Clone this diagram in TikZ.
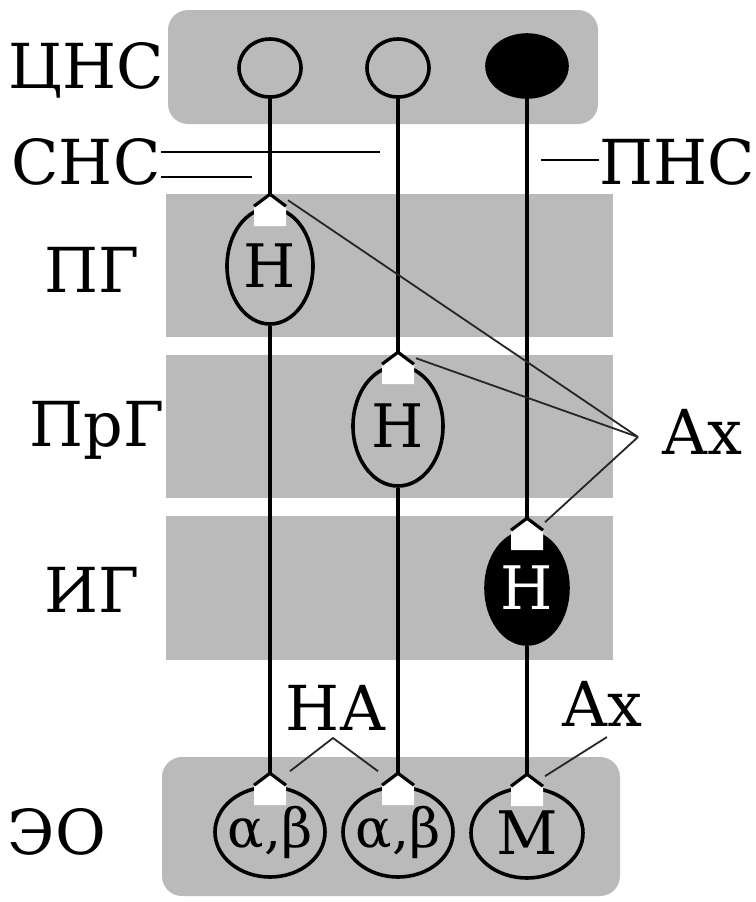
\documentclass[tikz,border=0pt]{standalone}
\usepackage{fontspec}
\setmainfont{DejaVu Serif}
\usetikzlibrary{shapes.geometric, positioning}

\tikzset{
  layer/.style={fill=black!27},
  cell/.style={ellipse, draw, line width=1.8pt, inner sep=0pt, font=\fontsize{30}{30}\selectfont},
  wire/.style={line width=1.6pt},
  pointer/.style={line width=0.9pt, draw=black!85},
  lbl/.style={inner sep=0pt, font=\fontsize{31}{31}\selectfont}
}
\newcommand{\synapse}[1]{%
  \fill[white] ([shift={(-8pt,0pt)}]#1.north) -- ([shift={(0pt,6pt)}]#1.north) -- ([shift={(8pt,0pt)}]#1.north)
    -- ([shift={(8pt,-10pt)}]#1.north) -- ([shift={(-8pt,-10pt)}]#1.north) -- cycle;
  \draw[wire] ([shift={(-8pt,0pt)}]#1.north) -- ([shift={(0pt,6pt)}]#1.north) -- ([shift={(8pt,0pt)}]#1.north);
}

\begin{document}
\begin{tikzpicture}[x=0.5pt,y=-0.5pt]
  \useasboundingbox (0,0) rectangle (756,902);

  \fill[layer, rounded corners=10pt] (168,10) rectangle (598,124);
  \fill[layer] (166,194) rectangle (613,337);
  \fill[layer] (166,355) rectangle (613,498);
  \fill[layer] (166,516) rectangle (613,660);
  \fill[layer, rounded corners=10pt] (162,757) rectangle (620,896);

  \node[lbl] (cns) at (86,70) {ЦНС};
  \node[lbl] (sns) at (86,162) {СНС};
  \node[lbl] (pns) at (677,162) {ПНС};
  \node[lbl] (pg) at (92,270) {ПГ};
  \node[lbl] (prg) at (97,430) {ПрГ};
  \node[lbl] (ig) at (92,590) {ИГ};
  \node[lbl] (eo) at (57,832) {ЭО};
  \node[lbl] (ax) at (702,432) {Ах};
  \node[lbl] (na) at (336,708) {НА};
  \node[lbl] (axm) at (602,704) {Ах};

  \node[cell, minimum width=31pt, minimum height=29pt] (c1) at (270,68) {};
  \node[cell, minimum width=31pt, minimum height=29pt] (c2) at (398,68) {};
  \node[cell, fill=black, minimum width=40pt, minimum height=31pt] (c3) at (527,66) {};

  \node[cell, minimum width=43pt, minimum height=58pt] (h1) at (270,266) {Н};
  \node[cell, minimum width=45pt, minimum height=60pt] (h2) at (398,426) {Н};
  \node[cell, fill=black, text=white, minimum width=41pt, minimum height=56pt] (h3) at (527,588) {Н};

  \node[cell, inner sep=-6pt, minimum width=55pt, minimum height=45pt, font=\fontsize{27}{27}\selectfont] (e1) at (270,832) {α,β};
  \node[cell, inner sep=-6pt, minimum width=55pt, minimum height=45pt, font=\fontsize{27}{27}\selectfont] (e2) at (398,832) {α,β};
  \node[cell, minimum width=56pt, minimum height=45pt] (e3) at (527,833) {М};

  \draw[wire] (c1) -- (h1);
  \draw[wire] (c2) -- (h2);
  \draw[wire] (c3) -- (h3);
  \draw[wire] (h1) -- (e1);
  \draw[wire] (h2) -- (e2);
  \draw[wire] (h3) -- (e3);

  \synapse{h1}
  \synapse{h2}
  \synapse{h3}
  \synapse{e1}
  \synapse{e2}
  \synapse{e3}

  \coordinate (sns1) at (380,152);
  \coordinate (sns2) at (252,177);
  \coordinate (pns1) at (541,160);
  \draw[line width=1pt] (sns.east |- sns1) -- (sns1);
  \draw[line width=1pt] (sns.east |- sns2) -- (sns2);
  \draw[line width=1pt] (pns1) -- (pns.west |- pns1);

  \coordinate (axj) at (638,437);
  \draw[pointer] (axj) -- ([shift={(9pt,3pt)}]h1.north);
  \draw[pointer] (axj) -- ([shift={(9pt,3pt)}]h2.north);
  \draw[pointer] (axj) -- ([shift={(9pt,4pt)}]h3.north);

  \coordinate (naj) at (333,738);
  \draw[pointer] ([shift={(10pt,7pt)}]e1.north) -- (naj) -- ([shift={(-10pt,7pt)}]e2.north);

  \coordinate (axmj) at (607,737);
  \draw[pointer] (axmj) -- ([shift={(9pt,5pt)}]e3.north);
\end{tikzpicture}
\end{document}
